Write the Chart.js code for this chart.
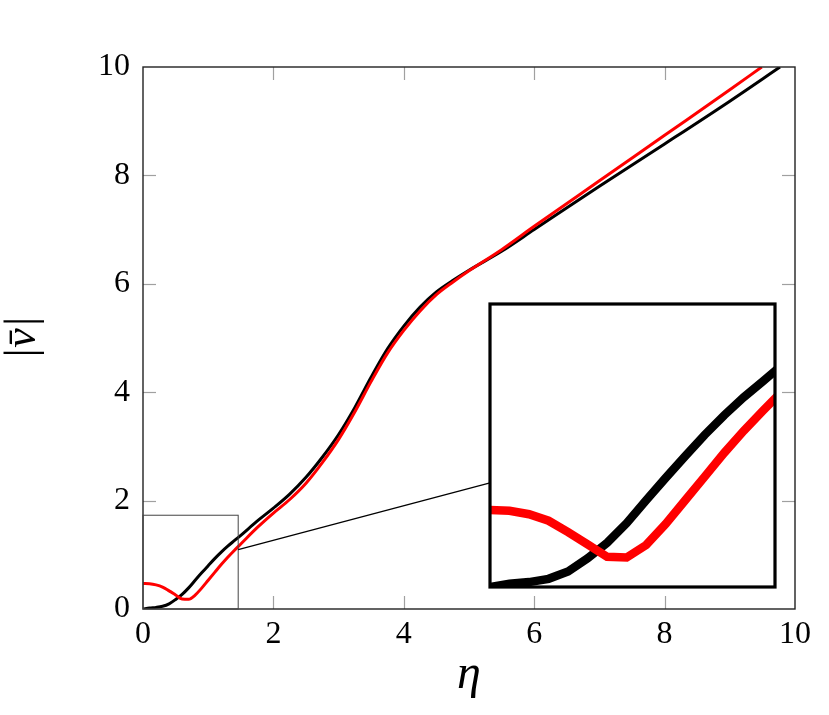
<!DOCTYPE html>
<html><head><meta charset="utf-8">
<script src="https://cdn.jsdelivr.net/npm/chart.js@4/dist/chart.umd.min.js"></script>
<style>
html,body{margin:0;padding:0;background:#fff;}
#wrap{position:relative;width:829px;height:715px;overflow:hidden;}
#main{position:absolute;left:0;top:0;}
#inset{position:absolute;left:486px;top:300px;}
</style></head><body>
<div id="wrap"><canvas id="main" width="829" height="715"></canvas><canvas id="inset" width="293" height="291"></canvas></div>
<script>
// ---- data ----
const etaBlack = [0,0.1,0.2,0.3,0.4,0.5,0.6,0.7,0.8,0.9,1.0,1.1,1.2,1.3,1.4,1.5,1.75,2.0,2.25,2.5,2.75,3.0,3.25,3.5,3.75,4.0,4.25,4.5,4.75,5.0,5.5,6,7,8,9,9.77];
const vBlack   = [0,0.02,0.03,0.05,0.095,0.175,0.27,0.39,0.53,0.667,0.80,0.93,1.05,1.16,1.26,1.36,1.62,1.86,2.12,2.43,2.8,3.22,3.72,4.28,4.8,5.22,5.57,5.85,6.06,6.25,6.6,7.0,7.8,8.58,9.37,10];
const etaRed   = [0,0.1,0.2,0.3,0.4,0.5,0.6,0.7,0.8,0.9,1.0,1.1,1.2,1.3,1.4,1.5,1.75,2.0,2.25,2.5,2.75,3.0,3.25,3.5,3.75,4.0,4.25,4.5,4.75,5.0,5.5,6,7,8,9,9.49];
const vRed     = [0.47,0.466,0.445,0.405,0.335,0.26,0.185,0.18,0.257,0.385,0.53,0.675,0.82,0.955,1.08,1.2,1.5,1.77,2.02,2.32,2.7,3.13,3.64,4.2,4.72,5.14,5.5,5.8,6.03,6.24,6.63,7.06,7.9,8.74,9.58,10];
const xTicks = [0,2,4,6,8,10];
const yTicks = [0,2,4,6,8,10];
const zoomX = [0,1.46];
const zoomY = [0,1.73];
const xLabel = 'η';
const yLabel = '|v\u0304|';

// ---- layout constants ----
const INSET = {left:490, top:304, right:775, bottom:586.5};
const SERIF = "'Liberation Serif','DejaVu Serif',serif";
const pts = (xs, ys) => xs.map((x,i)=>({x:x, y:ys[i]}));

function line(ctx,x1,y1,x2,y2){ctx.beginPath();ctx.moveTo(x1,y1);ctx.lineTo(x2,y2);ctx.stroke();}

const framePlugin = {
  id:'frame',
  afterDraw(chart){
    const {ctx, chartArea:a, scales:{x,y}} = chart;
    ctx.save();
    ctx.strokeStyle='#a0a0a0'; ctx.lineWidth=1.2;
    const L=13;
    xTicks.forEach(v=>{ if(v===xTicks[0]||v===xTicks[xTicks.length-1]) return;
      const p=Math.round(x.getPixelForValue(v))+0.5;
      line(ctx,p,a.bottom,p,a.bottom-L); line(ctx,p,a.top,p,a.top+L);});
    yTicks.forEach(v=>{ if(v===yTicks[0]||v===yTicks[yTicks.length-1]) return;
      const p=Math.round(y.getPixelForValue(v))+0.5;
      line(ctx,a.left,p,a.left+L,p); line(ctx,a.right,p,a.right-L,p);});
    ctx.strokeStyle='#222'; ctx.lineWidth=1.4;
    ctx.strokeRect(a.left,a.top,a.right-a.left,a.bottom-a.top);
    // zoom rectangle
    const rx0=x.getPixelForValue(zoomX[0]), rx1=x.getPixelForValue(zoomX[1]);
    const ry0=y.getPixelForValue(zoomY[0]), ry1=y.getPixelForValue(zoomY[1]);
    ctx.strokeStyle='#444'; ctx.lineWidth=1;
    ctx.strokeRect(rx0,ry1,rx1-rx0,ry0-ry1);
    // connector: center to center, clipped at both rectangles
    const c1={x:(rx0+rx1)/2,y:(ry0+ry1)/2}, c2={x:(INSET.left+INSET.right)/2,y:(INSET.top+INSET.bottom)/2};
    const dx=c2.x-c1.x, dy=c2.y-c1.y;
    const t1=Math.min(((rx1-rx0)/2)/Math.abs(dx), ((ry0-ry1)/2)/Math.abs(dy));
    const t2=Math.min(((INSET.right-INSET.left)/2)/Math.abs(dx), ((INSET.bottom-INSET.top)/2)/Math.abs(dy));
    ctx.strokeStyle='#000'; ctx.lineWidth=1.3;
    line(ctx,c1.x+t1*dx,c1.y+t1*dy,c2.x-t2*dx,c2.y-t2*dy);
    ctx.restore();
  }
};

const tickFont = {family:SERIF, size:32};
new Chart(document.getElementById('main'), {
  type:'line',
  data:{datasets:[
    {data:pts(etaRed,vRed), borderColor:'#ff0000', borderWidth:3, pointRadius:0, cubicInterpolationMode:'monotone', clip:0, fill:false},
    {data:pts(etaBlack,vBlack), borderColor:'#000000', borderWidth:3, pointRadius:0, cubicInterpolationMode:'monotone', clip:0, fill:false}
  ]},
  options:{
    responsive:false, animation:false, devicePixelRatio:1,
    layout:{padding:{top:67,right:34,left:0,bottom:0}},
    plugins:{legend:{display:false}, tooltip:{enabled:false}},
    scales:{
      x:{type:'linear', min:0, max:10,
        afterBuildTicks:s=>{s.ticks=xTicks.map(v=>({value:v}));},
        afterFit:s=>{s.height=106;},
        grid:{display:false, drawTicks:false}, border:{display:false},
        ticks:{padding:6, font:tickFont, color:'#000', maxRotation:0, autoSkip:false},
        title:{display:true, text:xLabel, color:'#000', font:{family:SERIF, size:48, style:'italic'}, padding:{top:0,bottom:11}}},
      y:{type:'linear', min:0, max:10,
        afterBuildTicks:s=>{s.ticks=yTicks.map(v=>({value:v}));},
        afterFit:s=>{s.width=143;},
        grid:{display:false, drawTicks:false}, border:{display:false},
        ticks:{padding:13, font:tickFont, color:'#000', autoSkip:false},
        title:{display:true, text:yLabel, color:'#000', font:{family:SERIF, size:44, style:'italic'}, padding:{top:-3,bottom:0}}}
    }
  },
  plugins:[framePlugin]
});

const insetBox = {
  id:'insetBox',
  afterDraw(chart){
    const {ctx, chartArea:a} = chart;
    ctx.save(); ctx.strokeStyle='#000'; ctx.lineWidth=3.2;
    ctx.strokeRect(a.left,a.top,a.right-a.left,a.bottom-a.top);
    ctx.restore();
  }
};
new Chart(document.getElementById('inset'), {
  type:'line',
  data:{datasets:[
    {data:pts(etaRed,vRed), borderColor:'#ff0000', borderWidth:8.5, pointRadius:0, tension:0, clip:0, fill:false},
    {data:pts(etaBlack,vBlack), borderColor:'#000000', borderWidth:8.5, pointRadius:0, tension:0, clip:0, fill:false}
  ]},
  options:{
    responsive:false, animation:false, devicePixelRatio:1,
    layout:{padding:4},
    plugins:{legend:{display:false}, tooltip:{enabled:false}},
    scales:{
      x:{type:'linear', min:zoomX[0], max:zoomX[1], display:false},
      y:{type:'linear', min:zoomY[0], max:zoomY[1], display:false}
    }
  },
  plugins:[insetBox]
});
</script>
</body></html>
